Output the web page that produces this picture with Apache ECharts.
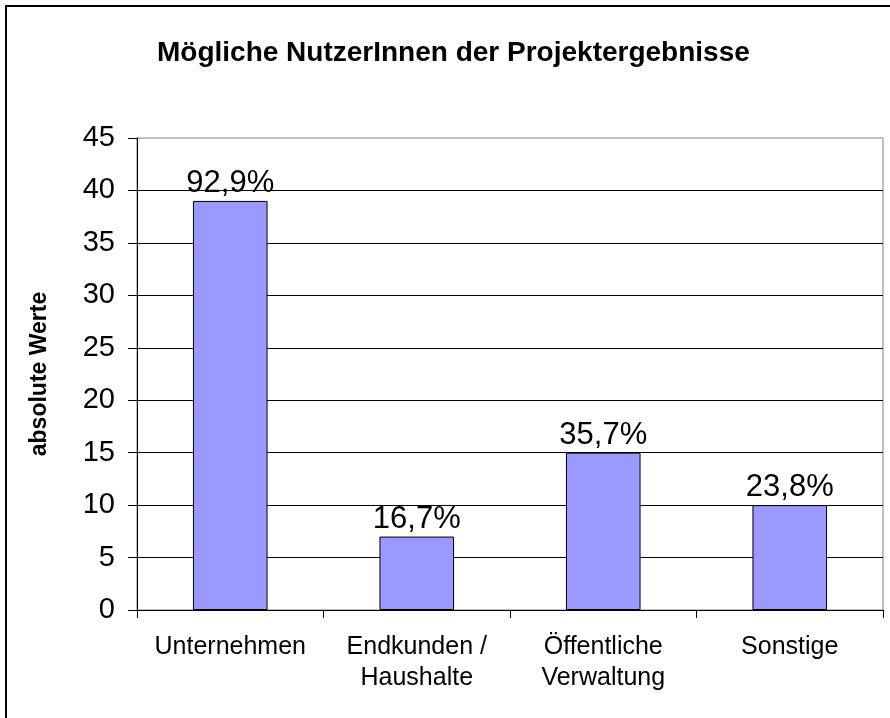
<!DOCTYPE html>
<html>
<head>
    <meta charset="utf-8">
    <title>Nutzer</title>
    <script src="https://cdn.jsdelivr.net/npm/echarts@6/dist/echarts.min.js"></script>
    <style>
        body{margin:0;background:#fff}
        #main{width:890px;height:718px}
    </style>
</head>
<body>
<div id="main"></div>
<script type="text/javascript">
    var categories = ['Unternehmen', 'Endkunden /\nHaushalte', 'Öffentliche\nVerwaltung', 'Sonstige'];
    var counts = [39, 7, 15, 10];
    var shares = ['92,9%', '16,7%', '35,7%', '23,8%'];
    var yTicks = [0, 5, 10, 15, 20, 25, 30, 35, 40, 45];

    var font = 'Arial, "Liberation Sans", sans-serif';
    var myChart = echarts.init(document.getElementById('main'));

    myChart.setOption({
        animation: false,
        title: {
            text: 'Mögliche NutzerInnen der Projektergebnisse',
            left: 152,
            top: 34,
            textStyle: {fontFamily: font, fontSize: 28, fontWeight: 'bold', color: '#000'}
        },
        graphic: [{
            type: 'rect',
            shape: {x: 6, y: 6, width: 900, height: 720},
            style: {fill: 'none', stroke: '#000', lineWidth: 2}
        }],
        grid: {
            left: 137,
            right: 7,
            top: 138,
            bottom: 108,
            show: true,
            borderColor: '#808080',
            borderWidth: 1
        },
        xAxis: {
            type: 'category',
            data: categories,
            boundaryGap: true,
            axisLine: {lineStyle: {color: '#000', width: 1}},
            axisTick: {show: true, interval: 0, length: 8, lineStyle: {color: '#000'}},
            axisLabel: {
                interval: 0,
                hideOverlap: false,
                margin: 22,
                fontFamily: font,
                fontSize: 25,
                lineHeight: 31,
                color: '#000'
            }
        },
        yAxis: {
            type: 'value',
            min: yTicks[0],
            max: yTicks[yTicks.length - 1],
            interval: 5,
            name: 'absolute Werte',
            nameLocation: 'middle',
            nameGap: 86,
            nameRotate: 90,
            nameTextStyle: {fontFamily: font, fontSize: 23, fontWeight: 'bold', color: '#000'},
            axisLine: {show: true, lineStyle: {color: '#000', width: 1}},
            axisTick: {show: true, length: 9, lineStyle: {color: '#000'}},
            axisLabel: {margin: 22, fontFamily: font, fontSize: 29, color: '#000'},
            splitLine: {show: true, showMaxLine: false, lineStyle: {color: '#000', width: 1}}
        },
        series: [{
            type: 'bar',
            data: counts,
            barWidth: '40%',
            itemStyle: {color: '#9999ff', borderColor: '#000', borderWidth: 1},
            label: {
                show: true,
                position: 'top',
                distance: 2,
                fontFamily: font,
                fontSize: 31,
                color: '#000',
                formatter: function (p) { return shares[p.dataIndex]; }
            }
        }]
    });
</script>
</body>
</html>
